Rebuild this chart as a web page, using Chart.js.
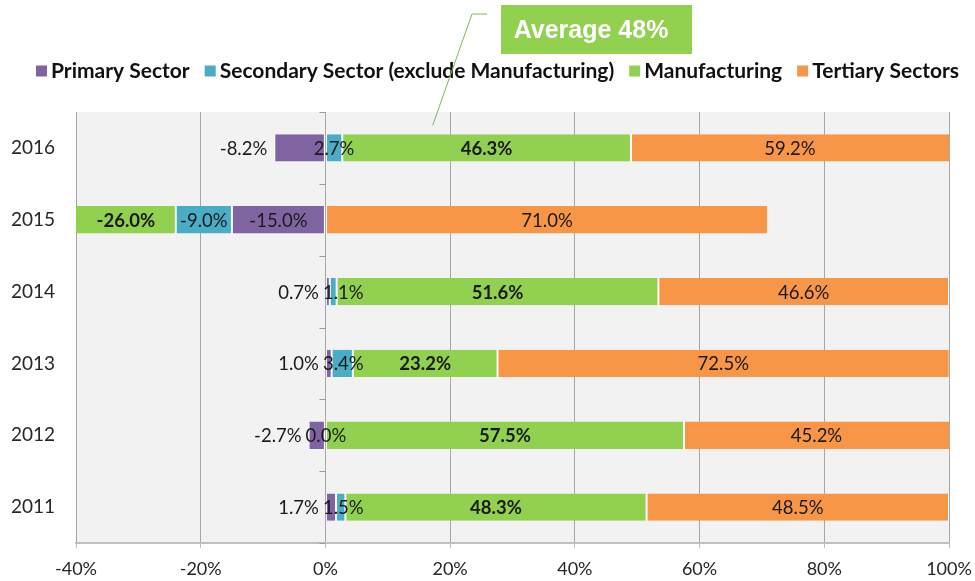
<!DOCTYPE html>
<html>
<head>
<meta charset="utf-8">
<script src="https://cdn.jsdelivr.net/npm/chart.js@4.4.1/dist/chart.umd.min.js"></script>
<style>
  html, body { margin: 0; padding: 0; background: #fff; }
</style>
</head>
<body>
<canvas id="sector-chart" width="975" height="581"></canvas>
<script>
// growth contribution by sector, per year (percent)
const years = ["2016", "2015", "2014", "2013", "2012", "2011"];
const primary = [-8.2, -15.0, 0.7, 1.0, -2.7, 1.7];
const secondary = [2.7, -9.0, 1.1, 3.4, 0.0, 1.5];
const manufacturing = [46.3, -26.0, 51.6, 23.2, 57.5, 48.3];
const tertiary = [59.2, 71.0, 46.6, 72.5, 45.2, 48.5];
const xMin = -40, xMax = 100, xStep = 20;
const averageNote = "Average 48%";

const colors = ["#8064A2", "#4BACC6", "#92D050", "#F79646"];
const LABEL_FONT = "Lato, 'Noto Sans', sans-serif";

// grey plot background
const plotBackground = {
    id: "plotBackground",
    beforeDraw(chart) {
        const { ctx, chartArea: a } = chart;
        ctx.save();
        ctx.fillStyle = "#F2F2F2";
        ctx.fillRect(a.left, a.top, a.right - a.left, a.bottom - a.top);
        ctx.restore();
    }
};

// little category ticks on the zero line
const zeroTicks = {
    id: "zeroTicks",
    afterDraw(chart) {
        const { ctx } = chart;
        const x0 = chart.scales.x.getPixelForValue(0);
        const y = chart.scales.y;
        ctx.save();
        ctx.strokeStyle = "#9A9A9A";
        ctx.lineWidth = 1;
        for (let i = 0; i <= years.length; i++) {
            const py = Math.round(y.getPixelForValue(i - 0.5)) + 0.5;
            ctx.beginPath();
            ctx.moveTo(x0 - 6, py);
            ctx.lineTo(x0, py);
            ctx.stroke();
        }
        ctx.restore();
    }
};

// value labels on the bars
const barLabels = {
    id: "barLabels",
    afterDatasetsDraw(chart) {
        const { ctx, chartArea: a } = chart;
        const primaryRight = [];
        ctx.save();
        ctx.textBaseline = "middle";
        ctx.fillStyle = "#1a1a1a";
        chart.data.datasets.forEach((ds, di) => {
            const meta = chart.getDatasetMeta(di);
            meta.data.forEach((bar, i) => {
                const v = ds.data[i];
                const text = v.toFixed(1) + "%";
                const left = Math.max(Math.min(bar.x, bar.base), a.left);
                const right = Math.min(Math.max(bar.x, bar.base), a.right);
                ctx.font = (di === 2 ? "bold " : "") + "18.5px " + LABEL_FONT;
                const w = ctx.measureText(text).width;
                let x = (left + right) / 2 - w / 2;
                if (di === 0 && Math.abs(v) < 10) {
                    x = left - 7 - w;
                    primaryRight[i] = left - 7;
                } else if (di === 0) {
                    primaryRight[i] = x + w;
                }
                if (di === 1 && primaryRight[i] !== undefined && v >= 0) {
                    x = Math.max(x, primaryRight[i] + 4);
                }
                ctx.textAlign = "left";
                ctx.fillText(text, x, bar.y + 1);
            });
        });
        ctx.restore();
    }
};

// legend row and the average callout above the plot
const header = {
    id: "header",
    afterDraw(chart) {
        const { ctx } = chart;
        ctx.save();

        ctx.font = "bold 21px " + LABEL_FONT;
        ctx.textBaseline = "middle";
        ctx.textAlign = "left";
        let x = 36;
        const cy = 71;
        chart.data.datasets.forEach(ds => {
            ctx.fillStyle = ds.backgroundColor;
            ctx.fillRect(x, cy - 5.5, 11, 11);
            x += 15;
            ctx.fillStyle = "#111";
            ctx.fillText(ds.label, x, cy);
            x += ctx.measureText(ds.label).width + 15;
        });

        // callout line down to the 2016 manufacturing bar
        const bar = chart.getDatasetMeta(2).data[0];
        const tipX = chart.scales.x.getPixelForValue(17.2);
        const tipY = bar.y - bar.height / 2 - 9;
        ctx.strokeStyle = "#7DB85A";
        ctx.lineWidth = 1;
        ctx.beginPath();
        ctx.moveTo(487, 14);
        ctx.lineTo(472, 14);
        ctx.lineTo(tipX, tipY);
        ctx.stroke();

        ctx.fillStyle = "#92D050";
        ctx.fillRect(501, 5, 191, 49);
        ctx.fillStyle = "#fff";
        ctx.font = "bold 25px 'Liberation Sans', Arial, sans-serif";
        ctx.textAlign = "center";
        ctx.fillText(averageNote, 591, 31);
        ctx.restore();
    }
};

const series = [
    ["Primary Sector", primary],
    ["Secondary Sector (exclude Manufacturing)", secondary],
    ["Manufacturing", manufacturing],
    ["Tertiary Sectors", tertiary]
];

new Chart(document.getElementById("sector-chart"), {
    type: "bar",
    data: {
        labels: years,
        datasets: series.map(([label, data], i) => ({
            label,
            data,
            backgroundColor: colors[i],
            borderColor: "#ffffff",
            borderWidth: { left: 1, right: 1, top: 0, bottom: 0 },
            borderSkipped: false,
            barPercentage: 0.38,
            categoryPercentage: 1.0,
            clip: 0
        }))
    },
    options: {
        indexAxis: "y",
        responsive: false,
        animation: false,
        layout: { padding: { top: 112, right: 26, bottom: 0, left: 0 } },
        plugins: {
            legend: { display: false },
            tooltip: { enabled: false }
        },
        scales: {
            x: {
                stacked: true,
                min: xMin,
                max: xMax,
                ticks: {
                    stepSize: xStep,
                    padding: 10,
                    color: "#262626",
                    font: { family: LABEL_FONT, size: 18 },
                    callback: v => v + "%"
                },
                grid: {
                    color: "#A6A6A6",
                    lineWidth: 1,
                    drawTicks: true,
                    tickLength: 5,
                    tickColor: "#BFBFBF"
                },
                border: { color: "#BFBFBF", width: 2 },
                afterFit(scale) {
                    scale.height = 38;
                    scale.paddingLeft = 0;
                    scale.paddingRight = 0;
                }
            },
            y: {
                stacked: true,
                ticks: {
                    padding: 21,
                    color: "#262626",
                    font: { family: LABEL_FONT, size: 19 }
                },
                grid: { display: false, drawTicks: false },
                border: { display: false },
                afterFit(scale) {
                    scale.width = 76;
                }
            }
        }
    },
    plugins: [plotBackground, zeroTicks, barLabels, header]
});
</script>
</body>
</html>
